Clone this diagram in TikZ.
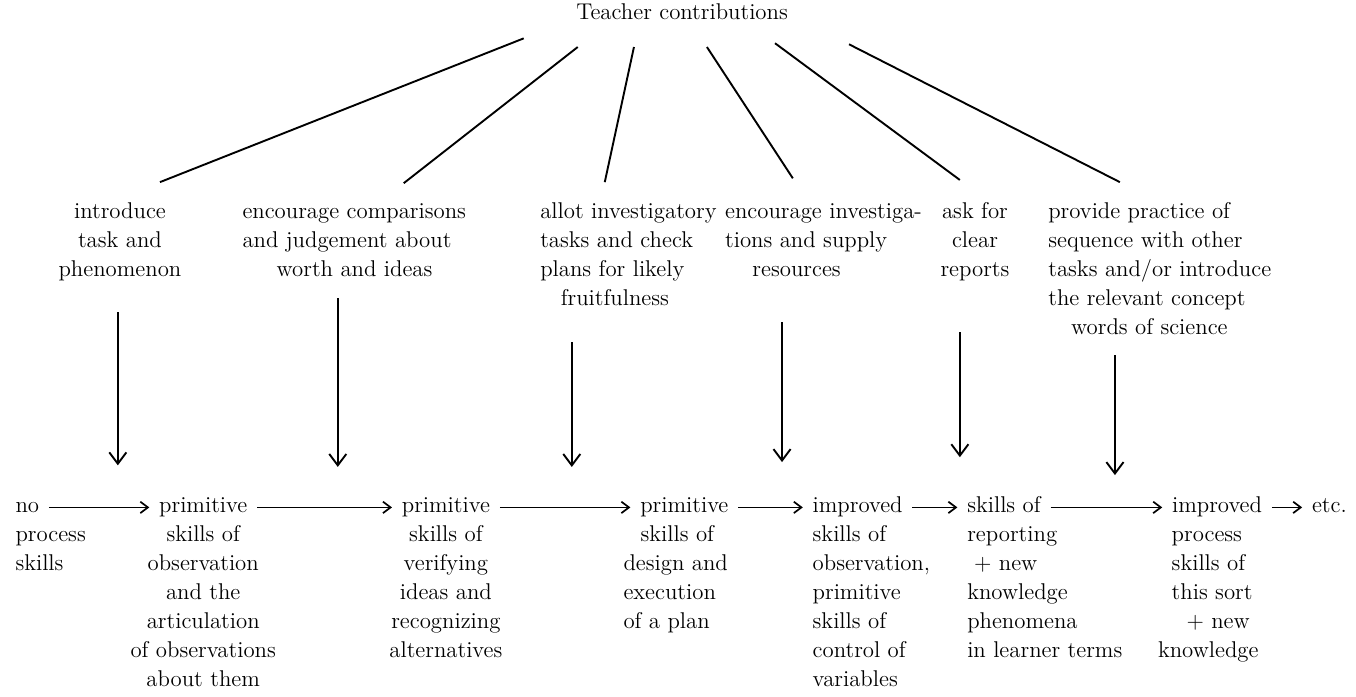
\documentclass[tikz,border=0pt]{standalone}
\usepackage{tikz}
\usetikzlibrary{arrows.meta,positioning}

\begin{document}
\begin{tikzpicture}[
    txt/.style={font=\fontsize{12}{15.25}\selectfont, inner sep=0pt},
    head/.style={txt, anchor=base west, text height=5.2pt, text depth=0pt},
    fan/.style={line width=1pt},
    down/.style={-{Straight Barb[length=6pt,width=9pt]}, line width=1pt},
    flow/.style={->, line width=0.9pt, shorten <=5pt, shorten >=5pt},
    >={Straight Barb[length=4pt,width=6pt]}
  ]
  \useasboundingbox (0,0) rectangle (25.09,12.88);

  \node[txt, anchor=base] (teacher) at (12.62,12.51) {Teacher contributions};

  % teacher contributions
  \node[txt, anchor=north, align=center] (intro) at (2.22,9.22)
    {\strut introduce\\task and\\phenomenon};
  \node[txt, anchor=north west, align=left] (compare) at (4.48,9.22)
    {\strut encourage comparisons\\and judgement about\\\hspace*{1.5em}worth and ideas};
  \node[txt, anchor=north west, align=left] (allot) at (9.99,9.22)
    {\strut allot investigatory\\tasks and check\\plans for likely\\\hspace*{0.9em}fruitfulness};
  \node[txt, anchor=north west, align=left] (supply) at (13.41,9.22)
    {\strut encourage investiga-\\tions and supply\\\hspace*{1.2em}resources};
  \node[txt, anchor=north, align=center] (ask) at (18.04,9.22)
    {\strut ask for\\clear\\reports};
  \node[txt, anchor=north west, align=left] (provide) at (19.39,9.22)
    {\strut provide practice of\\sequence with other\\tasks and/or introduce\\the relevant concept\\\hspace*{1em}words of science};

  % fan from the heading
  \coordinate (top1) at (9.69,12.17);  \coordinate (end1) at (2.96,9.51);
  \coordinate (top2) at (10.69,12.01); \coordinate (end2) at (7.47,9.49);
  \coordinate (top3) at (11.73,12.01); \coordinate (end3) at (11.19,9.51);
  \coordinate (top4) at (13.08,12.01); \coordinate (end4) at (14.67,9.58);
  \coordinate (top5) at (14.34,12.08); \coordinate (end5) at (17.76,9.55);
  \coordinate (top6) at (15.71,12.06); \coordinate (end6) at (20.72,9.51);
  \draw[fan] (top1) -- (end1);
  \draw[fan] (top2) -- (end2);
  \draw[fan] (top3) -- (end3);
  \draw[fan] (top4) -- (end4);
  \draw[fan] (top5) -- (end5);
  \draw[fan] (top6) -- (end6);

  % sequence of skills
  \node[head] (no) at (0.28,3.40) {no};
  \node[head, anchor=base] (prim1) at (3.76,3.40) {primitive};
  \node[head, anchor=base] (prim2) at (8.25,3.40) {primitive};
  \node[head] (prim3) at (11.84,3.40) {primitive};
  \node[head] (impr1) at (15.03,3.40) {improved};
  \node[head] (rep) at (17.89,3.40) {skills of};
  \node[head] (impr2) at (21.68,3.40) {improved};
  \node[head] (etc) at (24.27,3.40) {etc.};

  \node[txt, anchor=north west, align=left] (noRest) at (0.28,3.24)
    {\strut process\\skills};
  \node[txt, anchor=north, align=center] (prim1Rest) at (3.76,3.24)
    {\strut skills of\\observation\\and the\\articulation\\of observations\\about them};
  \node[txt, anchor=north, align=center] (prim2Rest) at (8.25,3.24)
    {\strut skills of\\verifying\\ideas and\\recognizing\\alternatives};
  \node[txt, anchor=north west, align=left] (prim3Rest) at (11.53,3.24)
    {\strut\hspace*{0.75em}skills of\\design and\\execution\\of a plan};
  \node[txt, anchor=north west, align=left] (impr1Rest) at (15.03,3.24)
    {\strut skills of\\observation,\\primitive\\skills of\\control of\\variables};
  \node[txt, anchor=north west, align=left] (repRest) at (17.89,3.24)
    {\strut reporting\\\hspace*{0.3em}+ new\\knowledge\\phenomena\\in learner terms};
  \node[txt, anchor=north west, align=left] (impr2Rest) at (21.42,3.24)
    {\strut\hspace*{0.6em}process\\\hspace*{0.6em}skills of\\\hspace*{0.6em}this sort\\\hspace*{1.25em}+ new\\knowledge};

  \draw[flow] (no) -- (prim1);
  \draw[flow] (prim1) -- (prim2);
  \draw[flow] (prim2) -- (prim3);
  \draw[flow] (prim3) -- (impr1);
  \draw[flow] (impr1) -- (rep);
  \draw[flow] (rep) -- (impr2);
  \draw[flow] (impr2) -- (etc);

  % contributions acting on the transitions
  \coordinate (from1) at (2.18,7.10);  \coordinate (to1) at (2.18,4.27);
  \coordinate (from2) at (6.25,7.36);  \coordinate (to2) at (6.25,4.24);
  \coordinate (from3) at (10.58,6.55); \coordinate (to3) at (10.58,4.24);
  \coordinate (from4) at (14.47,6.92); \coordinate (to4) at (14.47,4.33);
  \coordinate (from5) at (17.76,6.73); \coordinate (to5) at (17.76,4.42);
  \coordinate (from6) at (20.63,6.31); \coordinate (to6) at (20.63,4.09);
  \draw[down] (from1) -- (to1);
  \draw[down] (from2) -- (to2);
  \draw[down] (from3) -- (to3);
  \draw[down] (from4) -- (to4);
  \draw[down] (from5) -- (to5);
  \draw[down] (from6) -- (to6);
\end{tikzpicture}
\end{document}
